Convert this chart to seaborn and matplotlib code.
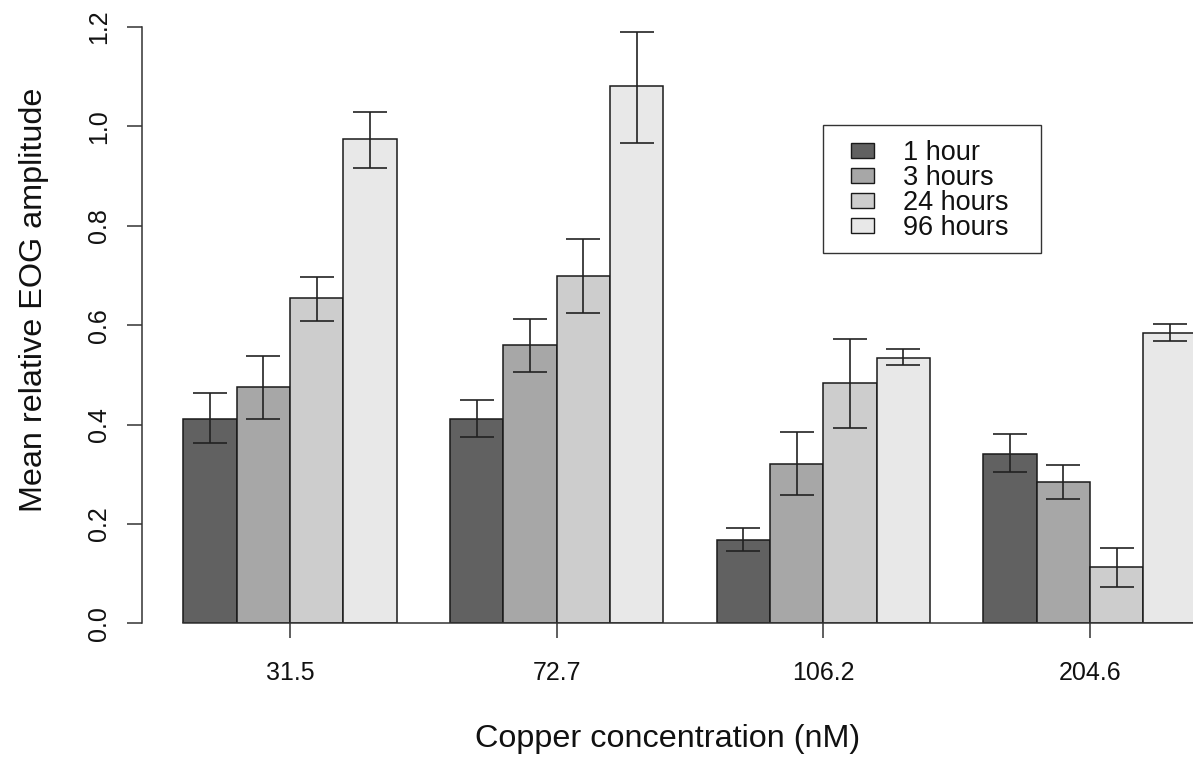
import matplotlib
matplotlib.use("Agg")
import matplotlib.pyplot as plt
import matplotlib.patches as mpatches
import numpy as np
import pandas as pd
import seaborn as sns

# --- data ---
concentrations = ["31.5", "72.7", "106.2", "204.6"]
times = ["1 hour", "3 hours", "24 hours", "96 hours"]

mean_1h = [0.412, 0.411, 0.168, 0.340]
mean_3h = [0.476, 0.560, 0.321, 0.284]
mean_24h = [0.654, 0.699, 0.483, 0.113]
mean_96h = [0.974, 1.081, 0.534, 0.584]

low_1h = [0.363, 0.374, 0.146, 0.305]
low_3h = [0.412, 0.505, 0.258, 0.250]
low_24h = [0.608, 0.625, 0.393, 0.074]
low_96h = [0.916, 0.967, 0.519, 0.568]

high_1h = [0.463, 0.450, 0.192, 0.380]
high_3h = [0.537, 0.612, 0.384, 0.318]
high_24h = [0.697, 0.774, 0.572, 0.151]
high_96h = [1.029, 1.189, 0.551, 0.602]

colors = ["#616161", "#a7a7a7", "#cdcdcd", "#e8e8e8"]

means = [mean_1h, mean_3h, mean_24h, mean_96h]
lows = [low_1h, low_3h, low_24h, low_96h]
highs = [high_1h, high_3h, high_24h, high_96h]

rows = []
for t, m in zip(times, means):
    for c, v in zip(concentrations, m):
        rows.append({"conc": c, "time": t, "value": v})
df = pd.DataFrame(rows)

# --- style ---
sns.set_theme(style="ticks")
plt.rcParams["font.family"] = ["Liberation Sans", "DejaVu Sans"]

W, H = 1193, 757
fig = plt.figure(figsize=(W / 100, H / 100), dpi=100)
ax = fig.add_axes([142 / W, (H - 623.3) / H, (W - 142) / W, (623.3 - 27) / H])

sns.barplot(
    data=df,
    x="conc",
    y="value",
    hue="time",
    order=concentrations,
    hue_order=times,
    palette=colors,
    errorbar=None,
    edgecolor="#1a1a1a",
    linewidth=1.1,
    saturation=1,
    legend=False,
    ax=ax,
)

# error bars on top of each bar, placed from the bars seaborn drew
for container, lo_list, hi_list, m_list in zip(ax.containers, lows, highs, means):
    for bar, lo, hi, m in zip(container, lo_list, hi_list, m_list):
        xc = bar.get_x() + bar.get_width() / 2
        ax.errorbar(
            xc, m, yerr=[[m - lo], [hi - m]],
            fmt="none", ecolor="#222222", elinewidth=1.2,
            capsize=12, capthick=1.2, zorder=5, clip_on=False,
        )

ax.set_ylim(0, 1.2)
ax.set_xlim(-0.555, 3.386)
ax.set_yticks(np.arange(0, 1.21, 0.2))
ax.set_yticklabels([f"{v:.1f}" for v in np.arange(0, 1.21, 0.2)])

sns.despine(ax=ax, top=True, right=True)
first_left = min(b.get_x() for b in ax.patches)
ax.spines["bottom"].set_bounds(first_left, 3.386)
ax.spines["left"].set_bounds(0, 1.2)
for s in ["bottom", "left"]:
    ax.spines[s].set_color("#333333")
    ax.spines[s].set_linewidth(1.1)

ax.tick_params(axis="both", length=11, width=1.1, color="#333333",
               labelsize=18, labelcolor="#111111")
ax.tick_params(axis="x", pad=16.5)
ax.tick_params(axis="y", pad=11, labelrotation=90)
for lab in ax.get_yticklabels():
    lab.set_va("center")

ax.set_xlabel("Copper concentration (nM)", fontsize=23.3, labelpad=27.5, color="#111111")
ax.set_ylabel("Mean relative EOG amplitude", fontsize=23.3, labelpad=28, color="#111111")
ax.yaxis.label.set_y(0.651 / 1.2)

# legend
handles = [mpatches.Patch(facecolor=c, edgecolor="#1a1a1a", linewidth=1.0) for c in colors]
leg = ax.legend(
    handles, times, loc="upper left",
    bbox_to_anchor=(851 / W, 1 - 140 / H), bbox_transform=fig.transFigure,
    frameon=False, fontsize=19.5, borderpad=0, borderaxespad=0,
    handlelength=0.86, handleheight=0.48, handletextpad=1.05, labelspacing=-0.04,
)
for t in leg.get_texts():
    t.set_color("#111111")
fig.patches.append(mpatches.Rectangle(
    (823 / W, 1 - 253 / H), 218 / W, 128 / H, transform=fig.transFigure,
    fill=False, edgecolor="#333333", linewidth=1.0,
))

fig.savefig("out.png", dpi=100)
